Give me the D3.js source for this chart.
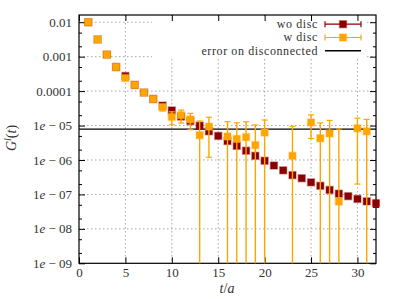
<!DOCTYPE html>
<html><head><meta charset="utf-8">
<script src="https://cdn.jsdelivr.net/npm/d3@7"></script>
<style>
body{margin:0;background:#fff;}
svg{display:block;}
</style></head>
<body><svg id="c" width="399" height="299"></svg>
<script>
// ---- data ----
const tValues = [1,2,3,4,5,6,7,8,9,10,11,12,13,14,15,16,17,18,19,20,21,22,23,24,25,26,27,28,29,30,31,32];
const woDisc = [1.0e-2,3.16e-3,1.15e-3,5.0e-4,2.75e-4,1.51e-4,9.1e-5,5.9e-5,3.8e-5,2.75e-5,1.82e-5,1.35e-5,9.9e-6,6.8e-6,5.0e-6,3.55e-6,2.57e-6,1.86e-6,1.32e-6,9.5e-7,6.9e-7,5.0e-7,3.63e-7,2.95e-7,2.24e-7,1.78e-7,1.35e-7,1.05e-7,8.9e-8,7.4e-8,6.3e-8,5.5e-8];
const woDiscErr = [1e-4,3e-5,1e-5,5e-6,3e-6,1.5e-6,9e-7,6e-7,4e-7,3e-7,2e-7,1.5e-7,1e-7,8e-8,6e-8,5e-8,4e-8,3e-8,2.5e-8,2e-8,1.5e-8,1.2e-8,1e-8,9e-9,8e-9,8e-9,8e-9,8e-9,8e-9,8e-9,1e-8,1.3e-8];
const wDisc = [1.0e-2,3.16e-3,1.15e-3,5.0e-4,2.4e-4,1.51e-4,9.1e-5,5.9e-5,3.4e-5,1.78e-5,2.0e-5,1.51e-5,5.25e-6,9.3e-6,null,4.8e-6,4.1e-6,4.6e-6,2.7e-6,6.3e-6,null,null,1.32e-6,null,1.23e-5,4.27e-6,5.9e-6,6.2e-8,null,8.3e-6,6.8e-6,null];
const wDiscErr = [8e-6,8e-6,8e-6,8e-6,8e-6,8e-6,8e-6,8e-6,7.5e-6,7.3e-6,8.2e-6,7.5e-6,8.3e-6,8.1e-6,null,8.1e-6,7.9e-6,8.3e-6,7.7e-6,8.2e-6,null,null,8.2e-6,null,8.1e-6,7.7e-6,8.2e-6,7.9e-6,null,8.1e-6,8.3e-6,null];
const errDisconnected = 7.9e-6;
const xTicks = [0,5,10,15,20,25,30];
const yTicks = [1e-9,1e-8,1e-7,1e-6,1e-5,1e-4,1e-3,1e-2];
const yTickLabels = [["1","e"," − 09"],["1","e"," − 08"],["1","e"," − 07"],["1","e"," − 06"],["1","e"," − 05"],["0.0001"],["0.001"],["0.01"]];
const yMinorMult = [2,5];
const seriesNames = ["wo disc","w disc","error on disconnected"];
const colors = ["#8b0000","#ffa500","#000000"];

// ---- layout ----
const FONT = "Liberation Serif";
const FS = 13;
const L=79, R=376, T=15, B=263.3;
const svg = d3.select("#c");
const x = d3.scaleLinear().domain([0,32]).range([L,R]);
const y = d3.scaleLog().domain([1e-9, Math.pow(10,-1.79)]).range([B,T]);

// grid
const grid = svg.append("g").attr("stroke","#a8a8a8").attr("stroke-width",1).attr("stroke-dasharray","1.5,2.5");
xTicks.filter(v=>v>0).forEach(v=>grid.append("line").attr("x1",x(v)).attr("x2",x(v)).attr("y1",T).attr("y2",B));
yTicks.filter(v=>v>1e-9).forEach(v=>grid.append("line").attr("x1",L).attr("x2",R).attr("y1",y(v)).attr("y2",y(v)));

// legend background (blocks grid)
svg.append("rect").attr("x",152).attr("y",T+1).attr("width",215).attr("height",42).attr("fill","#fff");

// disconnected error line
svg.append("line").attr("x1",L).attr("x2",R).attr("y1",y(errDisconnected)).attr("y2",y(errDisconnected))
  .attr("stroke","#000").attr("stroke-width",1.3);

// minor ticks values
const minor = [];
yTicks.forEach(d=>yMinorMult.forEach(m=>{const v=d*m; if(v<y.domain()[1]) minor.push(v);}));

// axes
const fmtY = (d)=>"";
const axL = svg.append("g").attr("transform",`translate(${L},0)`).call(d3.axisLeft(y).tickValues(yTicks).tickSize(-6).tickFormat(fmtY));
const axLm = svg.append("g").attr("transform",`translate(${L},0)`).call(d3.axisLeft(y).tickValues(minor).tickSize(-3).tickFormat(fmtY));
const axR = svg.append("g").attr("transform",`translate(${R},0)`).call(d3.axisRight(y).tickValues(yTicks).tickSize(-6).tickFormat(fmtY));
const axRm = svg.append("g").attr("transform",`translate(${R},0)`).call(d3.axisRight(y).tickValues(minor).tickSize(-3).tickFormat(fmtY));
const axB = svg.append("g").attr("transform",`translate(0,${B})`).call(d3.axisBottom(x).tickValues(xTicks).tickSize(-6).tickFormat(d3.format("d")));
const axT = svg.append("g").attr("transform",`translate(0,${T})`).call(d3.axisTop(x).tickValues(xTicks).tickSize(-6).tickFormat(()=>""));
[axL,axLm,axR,axRm,axB,axT].forEach(a=>{a.select(".domain").remove(); a.selectAll("line").attr("stroke","#000").attr("stroke-width",1); a.attr("font-family",FONT);});
axB.selectAll("text").attr("y",14).attr("dy",0).attr("font-size",FS).attr("font-family",FONT).attr("fill","#333");

// y tick labels with italic e
const yl = svg.append("g").attr("font-size",FS).attr("font-family",FONT).attr("fill","#333").attr("text-anchor","end");
yTicks.forEach((v,i)=>{
  const t = yl.append("text").attr("x",L-7).attr("y",y(v)).attr("dy","0.35em");
  const parts = yTickLabels[i];
  parts.forEach((p,j)=>{ const s=t.append("tspan").text(p); if(p==="e") s.attr("font-style","italic"); });
});

// frame
svg.append("rect").attr("x",L).attr("y",T).attr("width",R-L).attr("height",B-T).attr("fill","none").attr("stroke","#000").attr("stroke-width",1.2);

// series drawing
function drawSeries(vals, errs, color){
  const g = svg.append("g");
  tValues.forEach((t,i)=>{
    const v = vals[i]; if(v==null) return;
    const e = errs[i];
    const cx = x(t);
    const yTop = y(v+e);
    const lo = v-e;
    const yBot = lo>1e-9 ? y(lo) : B;
    g.append("line").attr("x1",cx).attr("x2",cx).attr("y1",yTop).attr("y2",yBot).attr("stroke",color).attr("stroke-width",1.4);
    g.append("line").attr("x1",cx-3).attr("x2",cx+3).attr("y1",yTop).attr("y2",yTop).attr("stroke",color).attr("stroke-width",1.2);
    if(lo>1e-9) g.append("line").attr("x1",cx-3).attr("x2",cx+3).attr("y1",yBot).attr("y2",yBot).attr("stroke",color).attr("stroke-width",1.2);
    g.append("rect").attr("x",cx-3.5).attr("y",y(v)-3.5).attr("width",7).attr("height",7).attr("fill",color)
      .attr("stroke",color).attr("stroke-opacity",0.35).attr("stroke-width",1.5);
  });
}
drawSeries(woDisc, woDiscErr, colors[0]);
drawSeries(wDisc, wDiscErr, colors[1]);

// legend
const lg = svg.append("g").attr("font-size",12).attr("letter-spacing","0.6px").attr("font-family",FONT).attr("fill","#333");
const rowsY = [24.2, 37.5, 50.8];
seriesNames.forEach((n,i)=>{
  lg.append("text").attr("x",318).attr("y",rowsY[i]).attr("dy","0.32em").attr("text-anchor","end").text(n);
  const c = colors[i], yy = rowsY[i];
  lg.append("line").attr("x1",325).attr("x2",361).attr("y1",yy).attr("y2",yy).attr("stroke",c).attr("stroke-width",i===2?1.5:1.2);
  if(i<2){
    lg.append("line").attr("x1",325).attr("x2",325).attr("y1",yy-3).attr("y2",yy+3).attr("stroke",c).attr("stroke-width",1.2);
    lg.append("line").attr("x1",361).attr("x2",361).attr("y1",yy-3).attr("y2",yy+3).attr("stroke",c).attr("stroke-width",1.2);
    lg.append("rect").attr("x",343-3.5).attr("y",yy-3.5).attr("width",7).attr("height",7).attr("fill",c)
      .attr("stroke",c).attr("stroke-opacity",0.35).attr("stroke-width",1.5);
  }
});

// axis titles
const xt = svg.append("text").attr("x",227).attr("y",293).attr("text-anchor","middle").attr("font-size",14).attr("font-family",FONT).attr("fill","#333");
xt.append("tspan").attr("font-style","italic").text("t");
xt.append("tspan").text("/");
xt.append("tspan").attr("font-style","italic").text("a");
const yt = svg.append("text").attr("transform","translate(16,138) rotate(-90)").attr("text-anchor","middle").attr("font-size",14).attr("font-family",FONT).attr("fill","#333");
yt.append("tspan").attr("font-style","italic").text("G");
yt.append("tspan").attr("font-style","italic").attr("font-size",10).attr("dy",-5).text("l");
yt.append("tspan").attr("dy",5).text("(");
yt.append("tspan").attr("font-style","italic").text("t");
yt.append("tspan").text(")");
</script></body></html>
